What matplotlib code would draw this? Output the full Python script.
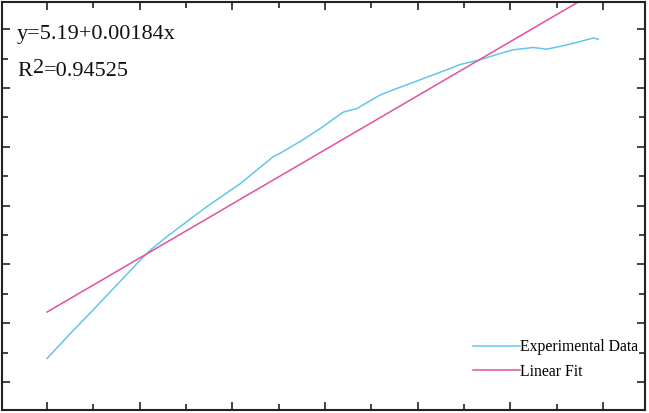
import numpy as np
import matplotlib
matplotlib.use("Agg")
import matplotlib.pyplot as plt
from matplotlib.ticker import MultipleLocator

# experimental curve
exp_x = [0, 124, 232, 376, 502, 556, 646, 717, 861, 1041, 1219, 1257, 1365,
         1473, 1598, 1671, 1796, 1868, 2013, 2156, 2228, 2336, 2426, 2515,
         2623, 2695, 2785, 2875, 2947, 2974]
exp_y = [4.40, 4.82, 5.17, 5.65, 6.07, 6.24, 6.47, 6.64, 6.98, 7.37, 7.83,
         7.89, 8.09, 8.31, 8.59, 8.65, 8.88, 8.97, 9.14, 9.31, 9.40, 9.48,
         9.57, 9.65, 9.69, 9.66, 9.72, 9.79, 9.85, 9.83]

fit_intercept = 5.19
fit_slope = 0.00184
fit_r2 = 0.94525

CYAN = "#62c6ec"
PINK = "#e0529e"

plt.rcParams["font.family"] = ["Liberation Serif", "DejaVu Serif"]

fig = plt.figure(figsize=(6.49, 4.13), dpi=100)
ax = fig.add_axes([2 / 649, 3 / 413, 643 / 649, 408 / 413])

fit_x = np.array([exp_x[0], exp_x[-1]])
fit_y = fit_intercept + fit_slope * fit_x

ax.plot(exp_x, exp_y, color=CYAN, lw=1.1, label="Experimental Data")
ax.plot(fit_x, fit_y, color=PINK, lw=1.1, label="Linear Fit")

ax.set_xlim(-243, 3226)
ax.set_ylim(3.524, 10.463)

ax.xaxis.set_major_locator(MultipleLocator(500))
ax.xaxis.set_minor_locator(MultipleLocator(250))
ax.yaxis.set_major_locator(MultipleLocator(1))
ax.yaxis.set_minor_locator(MultipleLocator(0.5))
ax.tick_params(which="both", direction="in", top=True, right=True,
               labelbottom=False, labelleft=False, width=1.2, color="#222222")
ax.tick_params(which="major", length=6)
ax.tick_params(which="minor", length=4)
for sp in ax.spines.values():
    sp.set_linewidth(1.5)
    sp.set_color("#222222")

# equation and R^2
fs = 16
t_eq = ax.text(15 / 643, 1 - 37 / 408, "y=5.19+0.00184x", transform=ax.transAxes,
               fontsize=fs, va="baseline", ha="left", color="#111111")
t_r = ax.text(15 / 643, 1 - 74 / 408, "R", transform=ax.transAxes,
              fontsize=fs, va="baseline", ha="left", color="#111111")
t_2 = ax.annotate("2", xy=(1, 0), xycoords=t_r, xytext=(0.5, 2.5),
                  textcoords="offset points", fontsize=fs, va="bottom",
                  ha="left", color="#111111")
ax.annotate(f"={fit_r2}", xy=(1, 0), xycoords=t_2, xytext=(0.3, -2.5),
            textcoords="offset points", fontsize=fs, va="bottom",
            ha="left", color="#111111")

ax.legend(loc="lower right", bbox_to_anchor=(1.006, 0.047), frameon=False,
          fontsize=11.3, handlelength=3.0, handletextpad=0.0,
          labelspacing=0.55, borderaxespad=0.3)

fig.savefig("out.png", dpi=100)
